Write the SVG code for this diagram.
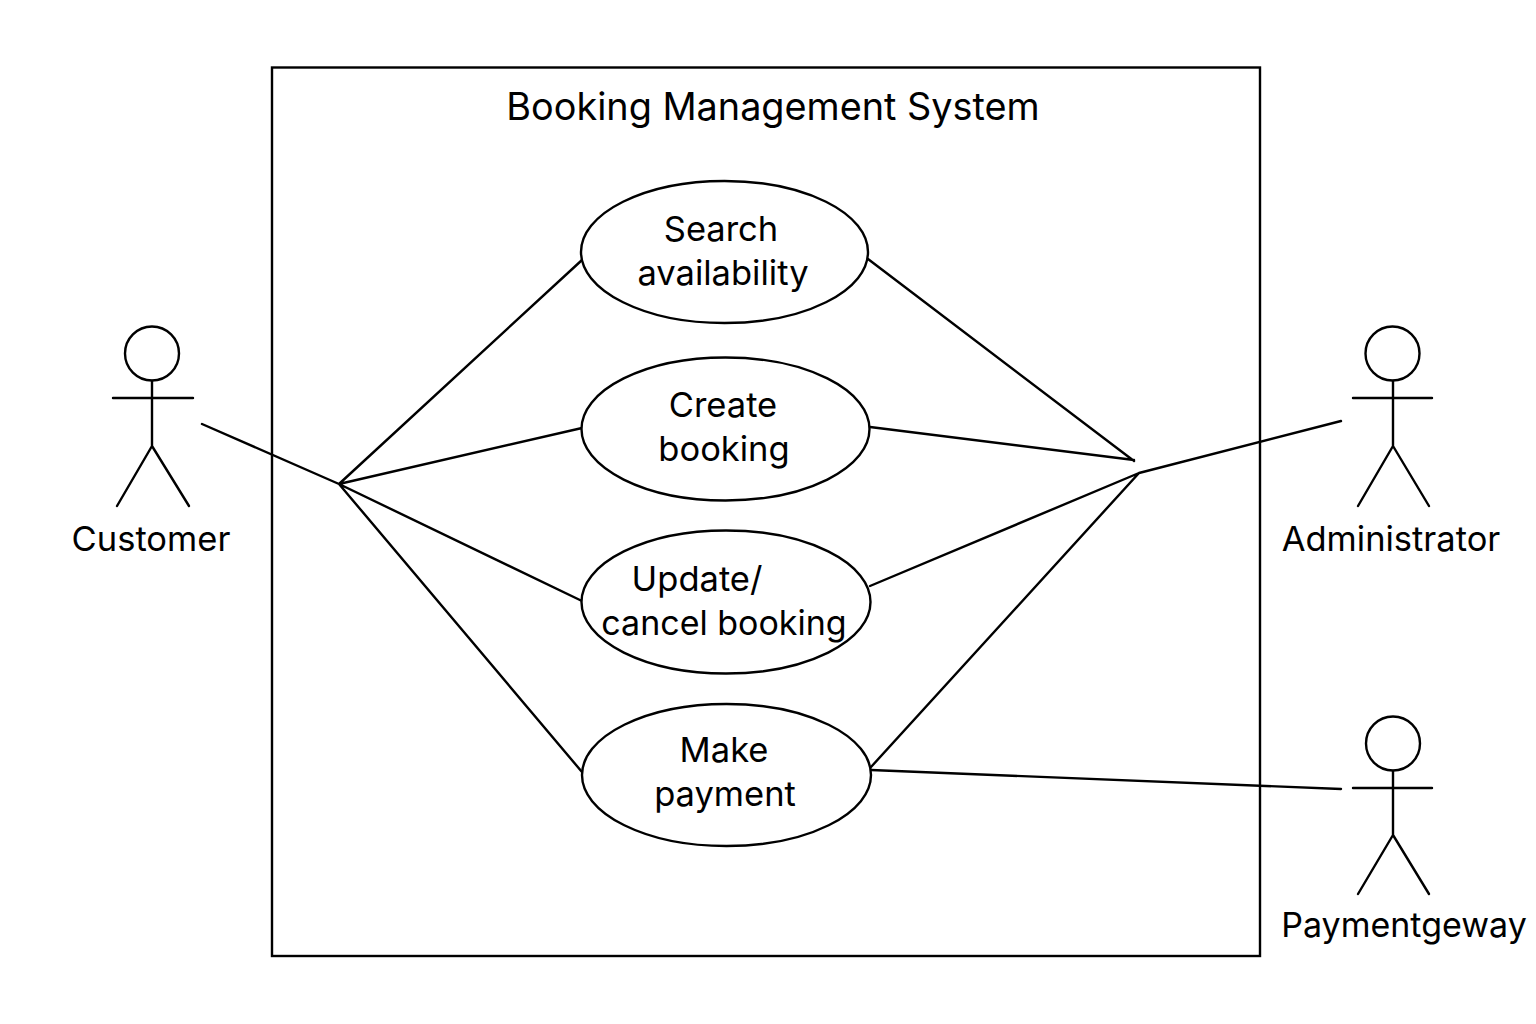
<svg xmlns="http://www.w3.org/2000/svg" width="1536" height="1024" viewBox="0 0 1536 1024">
<style>
.s{fill:none;stroke:#000;stroke-width:2.400;stroke-linecap:round;stroke-linejoin:round}
.u{fill:#fff;stroke:#000;stroke-width:2.400}
text{font-family:"Inter","Noto Sans","Liberation Sans",sans-serif;font-size:34.500px;fill:#000;text-anchor:middle}
.t{font-size:37.800px}
.n{font-size:34px}
</style>
<rect width="1536" height="1024" fill="#fff"/>
<g id="system"><rect x="272" y="67.500" width="988" height="888.500" fill="none" stroke="#000" stroke-width="2.400"/>
<text class="t" x="773" y="120">Booking Management System</text></g>
<g id="connectors">
<path class="s" d="M202 424L339 484L582 260M339 484L582 428M339 484L582 601M339 484L582 772"/>
<path class="s" d="M868 259L1134 461M870 427L1134 460M870 586L1139 473M871 767L1139 473M1139 473L1341 421M871 770L1341 789"/>
</g>
<g id="uc-search"><ellipse class="u" cx="724.500" cy="252" rx="143.500" ry="71"/><text x="721" y="241">Search</text><text x="723" y="285">availability</text></g>
<g id="uc-create"><ellipse class="u" cx="725.500" cy="429" rx="144" ry="71.500"/><text x="723" y="417">Create</text><text x="724" y="461">booking</text></g>
<g id="uc-update"><ellipse class="u" cx="726" cy="602" rx="144.500" ry="71.500"/><text x="697" y="591">Update/</text><text class="n" x="724" y="635">cancel booking</text></g>
<g id="uc-payment"><ellipse class="u" cx="726.500" cy="775" rx="144.500" ry="71"/><text x="724" y="762">Make</text><text x="725" y="806">payment</text></g>
<g id="actor-customer"><circle class="s" cx="152" cy="353.500" r="27"/><path class="s" d="M152 381V446M113 398H193M152 446L117 506M152 446L189 506"/><text x="151" y="551">Customer</text></g>
<g id="actor-administrator"><circle class="s" cx="1392.500" cy="353.500" r="27"/><path class="s" d="M1393 381V446M1353 398H1432M1393 446L1358 506M1393 446L1429 506"/><text x="1391" y="551">Administrator</text></g>
<g id="actor-paymentgeway"><circle class="s" cx="1393" cy="743.500" r="27"/><path class="s" d="M1393 771V835M1353 788H1432M1393 835L1358 894M1393 835L1429 894"/><text class="n" x="1404" y="937">Paymentgeway</text></g>
</svg>
